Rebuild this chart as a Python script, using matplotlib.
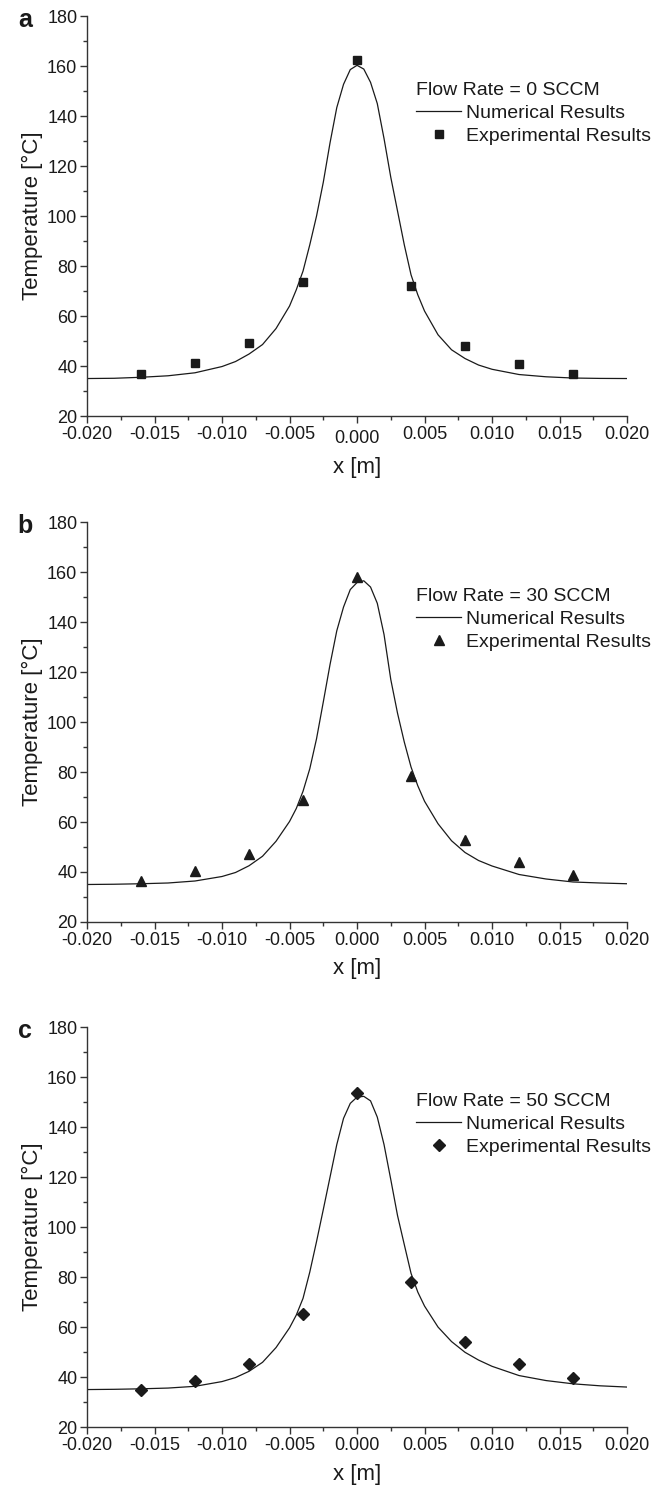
import numpy as np
import matplotlib
matplotlib.use('Agg')
import matplotlib.pyplot as plt
from matplotlib.ticker import MultipleLocator, FormatStrFormatter
from matplotlib.transforms import ScaledTranslation

plt.rcParams['font.family'] = ['Liberation Sans', 'DejaVu Sans']
plt.rcParams['axes.unicode_minus'] = False

# 实验测点位置 (m)
exp_x = [-0.016, -0.012, -0.008, -0.004, 0.0, 0.004, 0.008, 0.012, 0.016]
# 实验温度 (°C)
exp_a = [36.7, 41.1, 49.1, 73.6, 162.3, 72.2, 48.0, 40.8, 36.8]
exp_b = [36.3, 40.2, 47.1, 68.7, 158.0, 78.4, 52.7, 43.8, 38.7]
exp_c = [35.0, 38.6, 45.2, 65.3, 153.8, 78.1, 53.9, 45.2, 39.6]

# 数值计算曲线
num_x = [-0.020, -0.018, -0.016, -0.014, -0.012, -0.010, -0.009, -0.008, -0.007,
         -0.006, -0.005, -0.0045, -0.004, -0.0035, -0.003, -0.0025, -0.002,
         -0.0015, -0.001, -0.0005, 0.0, 0.0005, 0.001, 0.0015, 0.002, 0.0025,
         0.003, 0.0035, 0.004, 0.0045, 0.005, 0.006, 0.007, 0.008, 0.009,
         0.010, 0.012, 0.014, 0.016, 0.018, 0.020]
num_a = [35.0, 35.1, 35.5, 36.1, 37.3, 39.8, 41.8, 44.8, 48.6,
         55.0, 64.0, 70.5, 78.0, 88.5, 100.0, 113.5, 129.3,
         143.4, 152.7, 158.6, 160.3, 158.8, 153.5, 145.0, 131.0, 115.5,
         102.0, 88.5, 76.5, 68.5, 62.0, 52.5, 46.5, 43.0, 40.4,
         38.7, 36.6, 35.7, 35.2, 35.05, 35.0]
num_b = [35.0, 35.1, 35.3, 35.6, 36.4, 38.2, 39.8, 42.5, 46.3,
         52.3, 60.2, 65.4, 72.3, 81.3, 93.3, 108.0, 123.0,
         136.5, 146.0, 153.0, 155.8, 156.5, 154.0, 147.5, 135.0, 117.0,
         103.5, 92.0, 82.0, 74.5, 68.3, 59.3, 52.5, 47.8, 44.6,
         42.4, 39.0, 37.2, 36.0, 35.6, 35.3]
num_c = [35.0, 35.1, 35.3, 35.6, 36.3, 38.2, 39.8, 42.3, 45.9,
         51.8, 59.7, 64.8, 71.5, 82.0, 94.2, 107.0, 120.0,
         133.0, 143.5, 149.5, 152.0, 152.3, 150.5, 144.0, 133.0, 119.0,
         104.6, 93.0, 81.5, 74.0, 68.4, 60.0, 54.2, 49.9, 46.8,
         44.3, 40.6, 38.6, 37.3, 36.5, 36.0]

panels = [
    ('a', 'Flow Rate = 0 SCCM', exp_a, num_a, 's', 6.3),
    ('b', 'Flow Rate = 30 SCCM', exp_b, num_b, '^', 7.5),
    ('c', 'Flow Rate = 50 SCCM', exp_c, num_c, 'D', 6.5),
]
bottoms = [0.7206, 0.3808, 0.0416]

ink = '#1a1a1a'
fig = plt.figure(figsize=(6.72, 14.89), dpi=100)

for i, ((tag, title, ey, ny, mk, ms), b) in enumerate(zip(panels, bottoms)):
    ax = fig.add_axes([0.1295, b, 0.8036, 0.2686])
    ax.plot(num_x, ny, '-', color=ink, lw=0.9, label='Numerical Results')
    ax.plot(exp_x, ey, linestyle='none', marker=mk, ms=ms, color=ink,
            label='Experimental Results')
    ax.set_xlim(-0.020, 0.020)
    ax.set_ylim(20, 180)
    ax.xaxis.set_major_locator(MultipleLocator(0.005))
    ax.xaxis.set_minor_locator(MultipleLocator(0.0025))
    ax.yaxis.set_major_locator(MultipleLocator(20))
    ax.yaxis.set_minor_locator(MultipleLocator(10))
    ax.xaxis.set_major_formatter(FormatStrFormatter('%.3f'))
    ax.spines['top'].set_visible(False)
    ax.spines['right'].set_visible(False)
    for s in ['left', 'bottom']:
        ax.spines[s].set_color('#333333')
        ax.spines[s].set_linewidth(1.0)
    ax.tick_params(which='major', direction='out', length=5, width=1.0,
                   color='#333333', labelsize=13, labelcolor=ink, pad=2)
    ax.tick_params(which='minor', direction='out', length=3, width=1.0,
                   color='#333333')
    ax.set_xlabel('x [m]', fontsize=16, color=ink, labelpad=7)
    ax.set_ylabel('Temperature [°C]', fontsize=16, color=ink, labelpad=3)
    leg = ax.legend(title=title, loc='upper left', bbox_to_anchor=(0.61, 0.835),
                    frameon=False, fontsize=14, title_fontsize=14,
                    handlelength=2.3, handletextpad=0.25, labelspacing=0.28,
                    borderpad=0, borderaxespad=0, alignment='left')
    leg.get_title().set_color(ink)
    for t in leg.get_texts():
        t.set_color(ink)
    ax.text(-0.115, 0.99, tag, transform=ax.transAxes, fontsize=18,
            fontweight='bold', color=ink, ha='center', va='center')
    if i == 0:
        # 原图中 0.000 标签略低
        fig.canvas.draw()
        for tk in ax.xaxis.get_major_ticks():
            if abs(tk.get_loc()) < 1e-9:
                lab = tk.label1
                lab.set_transform(lab.get_transform() +
                                  ScaledTranslation(0, -3 / 72, fig.dpi_scale_trans))

fig.savefig('out.png', dpi=100)
